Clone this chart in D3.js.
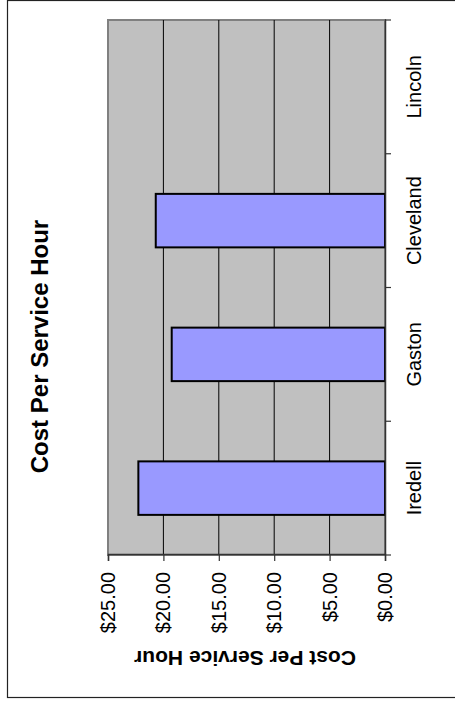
<!DOCTYPE html>
<html>
<head>
<meta charset="utf-8">
<script src="https://cdn.jsdelivr.net/npm/d3@7"></script>
<style>
	body { margin: 0; background: white; }
	text { font-family: 'Liberation Sans', Arial, sans-serif; fill: black; }
</style>
</head>
<body>
<div id="chart"></div>
<script>

// data
var counties = ['Iredell', 'Gaston', 'Cleveland', 'Lincoln'];
var costPerHour = [22.26, 19.25, 20.69, null];
var valueTicks = [0, 5, 10, 15, 20, 25];

var chartTitle = 'Cost Per Service Hour';
var valueTitle = 'Cost Per Service Hour';

// the whole chart sits on its side, so it is built upright and turned -90deg
var plotW = 535,   // category direction
		plotH = 277;   // value direction

var svg = d3.select('#chart')
						.append('svg')
							.attr('width', 455)
							.attr('height', 702);

// outer frame (right edge runs off the page)
svg.append('rect')
		.attr('x', 7.5)
		.attr('y', 0.5)
		.attr('width', 520)
		.attr('height', 697)
		.style('fill', 'white')
		.style('stroke', '#222')
		.style('stroke-width', 1.2);

var g = svg.append('g')
						.attr('transform', 'translate(108,555) rotate(-90)');

var x = d3.scaleBand()
					.domain(counties)
					.range([0, plotW])
					.paddingInner(0.6)
					.paddingOuter(0.3);

var y = d3.scaleLinear()
					.domain([0, 25])
					.range([plotH, 0]);

// plot area
g.append('rect')
		.attr('x', 0)
		.attr('y', 0)
		.attr('width', plotW)
		.attr('height', plotH)
		.style('fill', '#C0C0C0')
		.style('stroke', '#808080')
		.style('stroke-width', 2);

// gridlines
g.selectAll('.grid')
		.data(valueTicks.filter(function(d) { return d > 0 && d < 25; }))
		.enter()
		.append('line')
			.attr('class', 'grid')
			.attr('x1', 0)
			.attr('x2', plotW)
			.attr('y1', function(d) { return y(d); })
			.attr('y2', function(d) { return y(d); })
			.style('stroke', 'black')
			.style('stroke-width', 1);

// bars
g.selectAll('.bar')
		.data(counties.map(function(c, i) { return { name: c, value: costPerHour[i] }; })
									.filter(function(d) { return d.value != null; }))
		.enter()
		.append('rect')
			.attr('class', 'bar')
			.attr('x', function(d) { return x(d.name); })
			.attr('y', function(d) { return y(d.value); })
			.attr('width', x.bandwidth())
			.attr('height', function(d) { return plotH - y(d.value); })
			.style('fill', '#9999FF')
			.style('stroke', 'black')
			.style('stroke-width', 2);

// value axis (bottom of the page)
var valueAxis = g.append('g')
									.call(d3.axisLeft(y)
										.tickValues(valueTicks)
										.tickFormat(d3.format('$.2f'))
										.tickSize(6)
										.tickPadding(11));
valueAxis.select('.domain').style('stroke', '#333').style('stroke-width', 1.5);
valueAxis.selectAll('.tick line').style('stroke', '#333').style('stroke-width', 1.2);
valueAxis.selectAll('.tick text')
		.style('font-size', '20px')
		.style('font-family', "'Liberation Sans', Arial, sans-serif")
		.attr('fill', 'black');

// category axis (right of the page)
var catAxis = g.append('g')
								.attr('transform', 'translate(0,' + plotH + ')')
								.call(d3.axisBottom(x).tickSize(0).tickPadding(0));
catAxis.select('.domain').style('stroke', '#333').style('stroke-width', 1.5);
catAxis.selectAll('.tick text')
		.attr('y', 35.5)
		.attr('dy', 0)
		.style('font-size', '20px')
		.style('font-family', "'Liberation Sans', Arial, sans-serif")
		.attr('fill', 'black');

// ticks between categories
var edge = (x.step() - x.bandwidth()) / 2;
var bounds = counties.map(function(c) { return x(c) - edge; }).concat([plotW]);
catAxis.selectAll('.boundTick')
		.data(bounds)
		.enter()
		.append('line')
			.attr('class', 'boundTick')
			.attr('x1', function(d) { return d; })
			.attr('x2', function(d) { return d; })
			.attr('y1', 0)
			.attr('y2', 6)
			.style('stroke', '#333')
			.style('stroke-width', 1.2);

// titles
g.append('text')
		.attr('x', 208.5)
		.attr('y', -60)
		.attr('text-anchor', 'middle')
		.style('font-size', '24px')
		.style('font-weight', 'bold')
		.text(chartTitle);

g.append('text')
		.attr('transform', 'translate(-96,' + 137 + ') rotate(-90)')
		.attr('text-anchor', 'middle')
		.style('font-size', '21px')
		.style('font-weight', 'bold')
		.text(valueTitle);

</script>
</body>
</html>
